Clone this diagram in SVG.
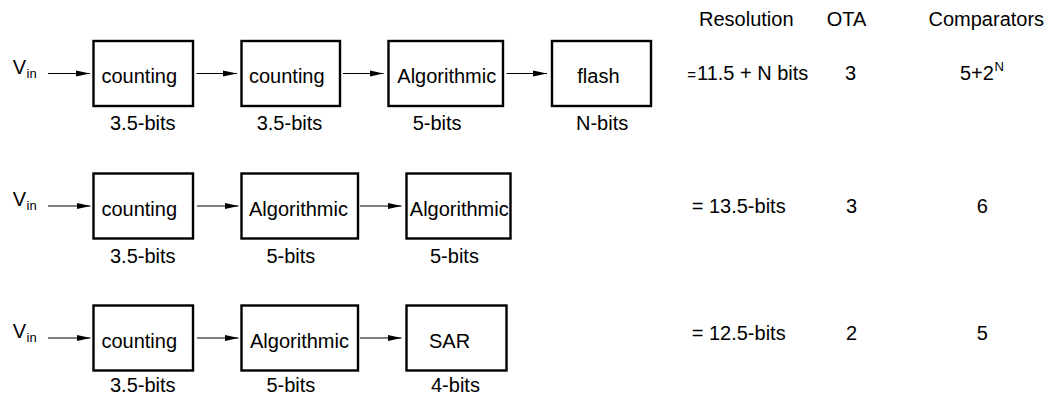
<svg xmlns="http://www.w3.org/2000/svg" width="1051" height="396" viewBox="0 0 1051 396">
<style>
text{font-family:"Liberation Sans",Arial,Helvetica,sans-serif;font-size:20px;fill:#000}
.sub{font-size:13px}
.box{fill:#fff;stroke:#000;stroke-width:2.4}
.wire{stroke:#000;stroke-width:1.1;fill:none;marker-end:url(#ah)}
</style>
<defs>
<marker id="ah" markerUnits="userSpaceOnUse" markerWidth="14" markerHeight="7" refX="14" refY="3.5" orient="auto">
<path d="M0,0.5 L14,3.5 L0,6.5 Z" fill="#000"/>
</marker>
</defs>
<g id="connectors">
<line class="wire" x1="48" y1="73.5" x2="90" y2="73.5"/>
<line class="wire" x1="196.5" y1="73.5" x2="237" y2="73.5"/>
<line class="wire" x1="343" y1="73.5" x2="383.5" y2="73.5"/>
<line class="wire" x1="506.5" y1="73.5" x2="547" y2="73.5"/>
<line class="wire" x1="48" y1="206" x2="90.5" y2="206"/>
<line class="wire" x1="197" y1="206" x2="238.5" y2="206"/>
<line class="wire" x1="360" y1="206" x2="401.5" y2="206"/>
<line class="wire" x1="48" y1="338" x2="90.5" y2="338"/>
<line class="wire" x1="197" y1="338" x2="238.5" y2="338"/>
<line class="wire" x1="360" y1="338" x2="401.5" y2="338"/>
</g>
<g id="vin1"><text x="12.7" y="73.5">V<tspan class="sub" x="26.5" y="77.5">in</tspan></text></g>
<g id="vin2"><text x="12.7" y="206">V<tspan class="sub" x="26.5" y="210">in</tspan></text></g>
<g id="vin3"><text x="12.7" y="338">V<tspan class="sub" x="26.5" y="342">in</tspan></text></g>
<g id="r1b1"><rect class="box" x="93.5" y="41" width="99.5" height="65"/><text x="101.5" y="83">counting</text><text x="110" y="130">3.5-bits</text></g>
<g id="r1b2"><rect class="box" x="241.5" y="41" width="98.5" height="65"/><text x="249" y="83">counting</text><text x="256.7" y="130">3.5-bits</text></g>
<g id="r1b3"><rect class="box" x="388.5" y="41" width="114.5" height="65"/><text x="397.3" y="83">Algorithmic</text><text x="412.7" y="130">5-bits</text></g>
<g id="r1b4"><rect class="box" x="552" y="41" width="99" height="65"/><text x="577.3" y="83">flash</text><text x="576" y="130">N-bits</text></g>
<g id="r2b1"><rect class="box" x="93.5" y="173.5" width="99.5" height="65"/><text x="101.4" y="215.5">counting</text><text x="110" y="263">3.5-bits</text></g>
<g id="r2b2"><rect class="box" x="241.5" y="173.5" width="116.5" height="65"/><text x="249" y="215.5">Algorithmic</text><text x="266.4" y="263">5-bits</text></g>
<g id="r2b3"><rect class="box" x="406.5" y="173.5" width="104" height="65"/><text x="409.8" y="215.5">Algorithmic</text><text x="430" y="263">5-bits</text></g>
<g id="r3b1"><rect class="box" x="93.5" y="305.5" width="99.5" height="65"/><text x="101.4" y="348">counting</text><text x="110" y="392">3.5-bits</text></g>
<g id="r3b2"><rect class="box" x="241.5" y="305.5" width="116.5" height="65"/><text x="250" y="348">Algorithmic</text><text x="266.4" y="392">5-bits</text></g>
<g id="r3b3"><rect class="box" x="406.5" y="305.5" width="100" height="65"/><text x="429" y="348">SAR</text><text x="431" y="392">4-bits</text></g>
<g id="table">
<text x="699" y="26">Resolution</text>
<text x="826.7" y="26">OTA</text>
<text x="928.5" y="26">Comparators</text>
<text x="687.3" y="80"><tspan style="font-size:15px">=</tspan><tspan x="697">11.5 + N bits</tspan></text>
<text x="845" y="80">3</text>
<text x="960" y="80">5+2<tspan class="sub" x="994.5" y="71">N</tspan></text>
<text x="691.7" y="213">= 13.5-bits</text>
<text x="846" y="213">3</text>
<text x="976.7" y="213">6</text>
<text x="691.7" y="340">= 12.5-bits</text>
<text x="846" y="340">2</text>
<text x="976.7" y="340">5</text>
</g>
</svg>
